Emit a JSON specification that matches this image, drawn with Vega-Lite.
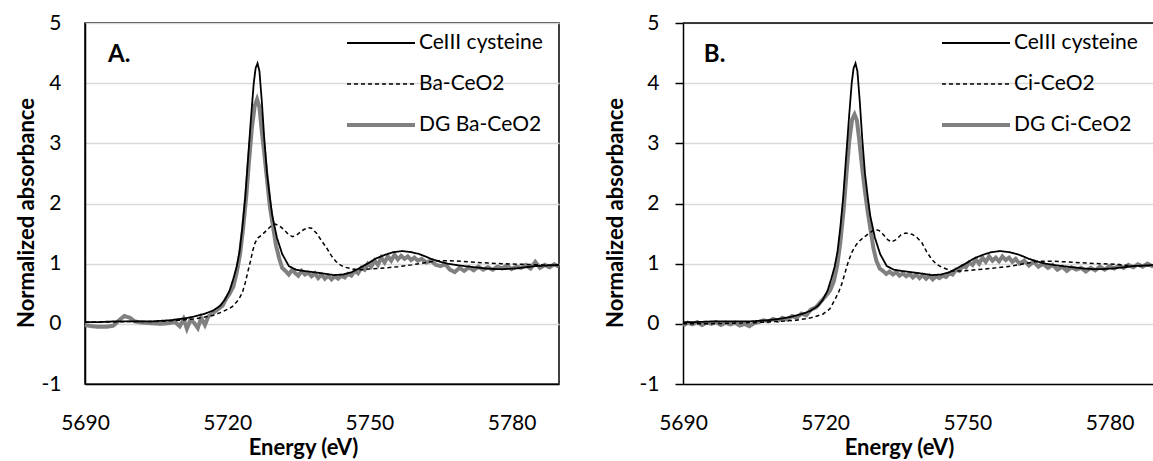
{
  "$schema": "https://vega.github.io/schema/vega-lite/v6.json",
  "padding": {"left": 14, "top": 11, "right": 0, "bottom": 0},
  "spacing": 36,
  "config": {
    "font": "Lato",
    "view": {"stroke": null},
    "axis": {"labelFont": "Lato", "labelFontSize": 21, "labelColor": "#000", "titleFont": "Lato", "titleFontSize": 22, "titleFontWeight": "bold", "titleColor": "#000", "domainColor": "#000", "domainWidth": 1.5, "gridColor": "#d9d9d9", "gridWidth": 1.5, "tickColor": "#000", "tickWidth": 1.5},
    "legend": {"orient": "none", "title": null, "symbolType": "M-4.25,0H4.25", "symbolSize": 256, "labelFont": "Lato", "labelFontSize": 21, "labelColor": "#000", "labelOffset": 27.5, "rowPadding": 19}
  },
  "datasets": {
    "cys": [
      {"E": 5690, "v": 0.03, "s": "CeIII cysteine"}, {"E": 5693, "v": 0.03, "s": "CeIII cysteine"}, {"E": 5696, "v": 0.04, "s": "CeIII cysteine"}, {"E": 5700, "v": 0.04, "s": "CeIII cysteine"}, {"E": 5704, "v": 0.04, "s": "CeIII cysteine"}, {"E": 5708, "v": 0.06, "s": "CeIII cysteine"}, {"E": 5711, "v": 0.09, "s": "CeIII cysteine"}, {"E": 5713, "v": 0.12, "s": "CeIII cysteine"}, {"E": 5715, "v": 0.16, "s": "CeIII cysteine"}, {"E": 5717, "v": 0.22, "s": "CeIII cysteine"}, {"E": 5718.5, "v": 0.3, "s": "CeIII cysteine"}, {"E": 5719.5, "v": 0.4, "s": "CeIII cysteine"}, {"E": 5720.5, "v": 0.55, "s": "CeIII cysteine"}, {"E": 5721.3, "v": 0.75, "s": "CeIII cysteine"}, {"E": 5722, "v": 0.95, "s": "CeIII cysteine"}, {"E": 5722.6, "v": 1.2, "s": "CeIII cysteine"}, {"E": 5723.2, "v": 1.6, "s": "CeIII cysteine"}, {"E": 5723.8, "v": 2.1, "s": "CeIII cysteine"}, {"E": 5724.4, "v": 2.75, "s": "CeIII cysteine"}, {"E": 5725, "v": 3.4, "s": "CeIII cysteine"}, {"E": 5725.6, "v": 4.0, "s": "CeIII cysteine"}, {"E": 5726, "v": 4.25, "s": "CeIII cysteine"}, {"E": 5726.4, "v": 4.33, "s": "CeIII cysteine"}, {"E": 5726.8, "v": 4.2, "s": "CeIII cysteine"}, {"E": 5727.3, "v": 3.7, "s": "CeIII cysteine"}, {"E": 5727.8, "v": 3.1, "s": "CeIII cysteine"}, {"E": 5728.4, "v": 2.5, "s": "CeIII cysteine"}, {"E": 5729, "v": 2.1, "s": "CeIII cysteine"}, {"E": 5729.5, "v": 1.8, "s": "CeIII cysteine"}, {"E": 5730.5, "v": 1.43, "s": "CeIII cysteine"}, {"E": 5731.6, "v": 1.16, "s": "CeIII cysteine"}, {"E": 5733, "v": 0.96, "s": "CeIII cysteine"}, {"E": 5734.5, "v": 0.9, "s": "CeIII cysteine"}, {"E": 5736, "v": 0.88, "s": "CeIII cysteine"}, {"E": 5738, "v": 0.86, "s": "CeIII cysteine"}, {"E": 5740, "v": 0.84, "s": "CeIII cysteine"}, {"E": 5742.5, "v": 0.81, "s": "CeIII cysteine"}, {"E": 5744.5, "v": 0.82, "s": "CeIII cysteine"}, {"E": 5746.3, "v": 0.86, "s": "CeIII cysteine"}, {"E": 5748, "v": 0.93, "s": "CeIII cysteine"}, {"E": 5749.8, "v": 1.01, "s": "CeIII cysteine"}, {"E": 5751.5, "v": 1.09, "s": "CeIII cysteine"}, {"E": 5753.4, "v": 1.15, "s": "CeIII cysteine"}, {"E": 5755, "v": 1.19, "s": "CeIII cysteine"}, {"E": 5756.9, "v": 1.21, "s": "CeIII cysteine"}, {"E": 5759, "v": 1.19, "s": "CeIII cysteine"}, {"E": 5760.5, "v": 1.16, "s": "CeIII cysteine"}, {"E": 5761.8, "v": 1.12, "s": "CeIII cysteine"}, {"E": 5763, "v": 1.08, "s": "CeIII cysteine"}, {"E": 5764.6, "v": 1.04, "s": "CeIII cysteine"}, {"E": 5766.5, "v": 1.0, "s": "CeIII cysteine"}, {"E": 5768.1, "v": 0.98, "s": "CeIII cysteine"}, {"E": 5770, "v": 0.96, "s": "CeIII cysteine"}, {"E": 5772.3, "v": 0.94, "s": "CeIII cysteine"}, {"E": 5774.5, "v": 0.92, "s": "CeIII cysteine"}, {"E": 5776.6, "v": 0.91, "s": "CeIII cysteine"}, {"E": 5778.5, "v": 0.91, "s": "CeIII cysteine"}, {"E": 5780.8, "v": 0.92, "s": "CeIII cysteine"}, {"E": 5783, "v": 0.94, "s": "CeIII cysteine"}, {"E": 5785, "v": 0.96, "s": "CeIII cysteine"}, {"E": 5787.5, "v": 0.97, "s": "CeIII cysteine"}, {"E": 5790, "v": 0.98, "s": "CeIII cysteine"}
    ],
    "ba": [
      {"E": 5690, "v": 0.03, "s": "Ba-CeO2"}, {"E": 5695, "v": 0.03, "s": "Ba-CeO2"}, {"E": 5700, "v": 0.04, "s": "Ba-CeO2"}, {"E": 5705, "v": 0.04, "s": "Ba-CeO2"}, {"E": 5710, "v": 0.06, "s": "Ba-CeO2"}, {"E": 5713, "v": 0.08, "s": "Ba-CeO2"}, {"E": 5717, "v": 0.14, "s": "Ba-CeO2"}, {"E": 5719, "v": 0.2, "s": "Ba-CeO2"}, {"E": 5721, "v": 0.28, "s": "Ba-CeO2"}, {"E": 5722.4, "v": 0.4, "s": "Ba-CeO2"}, {"E": 5723.2, "v": 0.52, "s": "Ba-CeO2"}, {"E": 5723.8, "v": 0.68, "s": "Ba-CeO2"}, {"E": 5724.4, "v": 0.88, "s": "Ba-CeO2"}, {"E": 5724.9, "v": 1.04, "s": "Ba-CeO2"}, {"E": 5725.4, "v": 1.22, "s": "Ba-CeO2"}, {"E": 5725.9, "v": 1.35, "s": "Ba-CeO2"}, {"E": 5726.5, "v": 1.43, "s": "Ba-CeO2"}, {"E": 5727.2, "v": 1.47, "s": "Ba-CeO2"}, {"E": 5728.4, "v": 1.56, "s": "Ba-CeO2"}, {"E": 5729.3, "v": 1.63, "s": "Ba-CeO2"}, {"E": 5730.1, "v": 1.66, "s": "Ba-CeO2"}, {"E": 5731, "v": 1.63, "s": "Ba-CeO2"}, {"E": 5731.9, "v": 1.57, "s": "Ba-CeO2"}, {"E": 5733, "v": 1.48, "s": "Ba-CeO2"}, {"E": 5733.8, "v": 1.45, "s": "Ba-CeO2"}, {"E": 5734.6, "v": 1.47, "s": "Ba-CeO2"}, {"E": 5735.8, "v": 1.55, "s": "Ba-CeO2"}, {"E": 5737, "v": 1.6, "s": "Ba-CeO2"}, {"E": 5737.8, "v": 1.59, "s": "Ba-CeO2"}, {"E": 5738.9, "v": 1.5, "s": "Ba-CeO2"}, {"E": 5740, "v": 1.37, "s": "Ba-CeO2"}, {"E": 5741, "v": 1.26, "s": "Ba-CeO2"}, {"E": 5742, "v": 1.13, "s": "Ba-CeO2"}, {"E": 5742.9, "v": 1.04, "s": "Ba-CeO2"}, {"E": 5744, "v": 0.97, "s": "Ba-CeO2"}, {"E": 5744.9, "v": 0.94, "s": "Ba-CeO2"}, {"E": 5746.5, "v": 0.91, "s": "Ba-CeO2"}, {"E": 5748, "v": 0.9, "s": "Ba-CeO2"}, {"E": 5750, "v": 0.91, "s": "Ba-CeO2"}, {"E": 5753.4, "v": 0.93, "s": "Ba-CeO2"}, {"E": 5756, "v": 0.95, "s": "Ba-CeO2"}, {"E": 5759, "v": 0.98, "s": "Ba-CeO2"}, {"E": 5762, "v": 1.02, "s": "Ba-CeO2"}, {"E": 5764.6, "v": 1.05, "s": "Ba-CeO2"}, {"E": 5767, "v": 1.05, "s": "Ba-CeO2"}, {"E": 5771, "v": 1.03, "s": "Ba-CeO2"}, {"E": 5775, "v": 1.01, "s": "Ba-CeO2"}, {"E": 5778, "v": 1.0, "s": "Ba-CeO2"}, {"E": 5782, "v": 0.99, "s": "Ba-CeO2"}, {"E": 5786, "v": 0.98, "s": "Ba-CeO2"}, {"E": 5790, "v": 0.97, "s": "Ba-CeO2"}
    ],
    "dgba": [
      {"E": 5690, "v": -0.02, "s": "DG Ba-CeO2"}, {"E": 5691.5, "v": -0.04, "s": "DG Ba-CeO2"}, {"E": 5693, "v": -0.05, "s": "DG Ba-CeO2"}, {"E": 5694.5, "v": -0.05, "s": "DG Ba-CeO2"}, {"E": 5696, "v": -0.03, "s": "DG Ba-CeO2"}, {"E": 5697.2, "v": 0.06, "s": "DG Ba-CeO2"}, {"E": 5698.3, "v": 0.13, "s": "DG Ba-CeO2"}, {"E": 5699.5, "v": 0.1, "s": "DG Ba-CeO2"}, {"E": 5700.5, "v": 0.04, "s": "DG Ba-CeO2"}, {"E": 5702, "v": 0.02, "s": "DG Ba-CeO2"}, {"E": 5704, "v": 0.01, "s": "DG Ba-CeO2"}, {"E": 5706, "v": 0.0, "s": "DG Ba-CeO2"}, {"E": 5707.5, "v": 0.01, "s": "DG Ba-CeO2"}, {"E": 5709, "v": 0.03, "s": "DG Ba-CeO2"}, {"E": 5710, "v": -0.04, "s": "DG Ba-CeO2"}, {"E": 5710.8, "v": 0.08, "s": "DG Ba-CeO2"}, {"E": 5711.5, "v": -0.08, "s": "DG Ba-CeO2"}, {"E": 5712.2, "v": 0.06, "s": "DG Ba-CeO2"}, {"E": 5713, "v": 0.02, "s": "DG Ba-CeO2"}, {"E": 5713.8, "v": -0.07, "s": "DG Ba-CeO2"}, {"E": 5714.5, "v": 0.1, "s": "DG Ba-CeO2"}, {"E": 5715.3, "v": -0.02, "s": "DG Ba-CeO2"}, {"E": 5716, "v": 0.12, "s": "DG Ba-CeO2"}, {"E": 5717, "v": 0.18, "s": "DG Ba-CeO2"}, {"E": 5718, "v": 0.24, "s": "DG Ba-CeO2"}, {"E": 5719, "v": 0.3, "s": "DG Ba-CeO2"}, {"E": 5719.8, "v": 0.42, "s": "DG Ba-CeO2"}, {"E": 5720.5, "v": 0.5, "s": "DG Ba-CeO2"}, {"E": 5721.3, "v": 0.62, "s": "DG Ba-CeO2"}, {"E": 5722, "v": 0.85, "s": "DG Ba-CeO2"}, {"E": 5722.7, "v": 1.15, "s": "DG Ba-CeO2"}, {"E": 5723.3, "v": 1.55, "s": "DG Ba-CeO2"}, {"E": 5724, "v": 2.1, "s": "DG Ba-CeO2"}, {"E": 5724.6, "v": 2.7, "s": "DG Ba-CeO2"}, {"E": 5725.2, "v": 3.25, "s": "DG Ba-CeO2"}, {"E": 5725.8, "v": 3.62, "s": "DG Ba-CeO2"}, {"E": 5726.3, "v": 3.73, "s": "DG Ba-CeO2"}, {"E": 5726.8, "v": 3.6, "s": "DG Ba-CeO2"}, {"E": 5727.3, "v": 3.2, "s": "DG Ba-CeO2"}, {"E": 5727.8, "v": 2.85, "s": "DG Ba-CeO2"}, {"E": 5728.4, "v": 2.4, "s": "DG Ba-CeO2"}, {"E": 5729, "v": 1.95, "s": "DG Ba-CeO2"}, {"E": 5729.6, "v": 1.65, "s": "DG Ba-CeO2"}, {"E": 5730.3, "v": 1.3, "s": "DG Ba-CeO2"}, {"E": 5731, "v": 1.08, "s": "DG Ba-CeO2"}, {"E": 5731.6, "v": 0.93, "s": "DG Ba-CeO2"}, {"E": 5732.3, "v": 0.88, "s": "DG Ba-CeO2"}, {"E": 5733, "v": 0.82, "s": "DG Ba-CeO2"}, {"E": 5733.7, "v": 0.9, "s": "DG Ba-CeO2"}, {"E": 5734.4, "v": 0.84, "s": "DG Ba-CeO2"}, {"E": 5735, "v": 0.8, "s": "DG Ba-CeO2"}, {"E": 5735.7, "v": 0.88, "s": "DG Ba-CeO2"}, {"E": 5736.4, "v": 0.82, "s": "DG Ba-CeO2"}, {"E": 5737.1, "v": 0.85, "s": "DG Ba-CeO2"}, {"E": 5737.8, "v": 0.79, "s": "DG Ba-CeO2"}, {"E": 5738.5, "v": 0.84, "s": "DG Ba-CeO2"}, {"E": 5739.2, "v": 0.76, "s": "DG Ba-CeO2"}, {"E": 5739.9, "v": 0.82, "s": "DG Ba-CeO2"}, {"E": 5740.6, "v": 0.75, "s": "DG Ba-CeO2"}, {"E": 5741.3, "v": 0.8, "s": "DG Ba-CeO2"}, {"E": 5742, "v": 0.74, "s": "DG Ba-CeO2"}, {"E": 5742.7, "v": 0.79, "s": "DG Ba-CeO2"}, {"E": 5743.4, "v": 0.75, "s": "DG Ba-CeO2"}, {"E": 5744.1, "v": 0.8, "s": "DG Ba-CeO2"}, {"E": 5744.8, "v": 0.77, "s": "DG Ba-CeO2"}, {"E": 5745.5, "v": 0.83, "s": "DG Ba-CeO2"}, {"E": 5746.2, "v": 0.8, "s": "DG Ba-CeO2"}, {"E": 5746.9, "v": 0.88, "s": "DG Ba-CeO2"}, {"E": 5747.6, "v": 0.84, "s": "DG Ba-CeO2"}, {"E": 5748.3, "v": 0.93, "s": "DG Ba-CeO2"}, {"E": 5749, "v": 0.9, "s": "DG Ba-CeO2"}, {"E": 5749.7, "v": 1.0, "s": "DG Ba-CeO2"}, {"E": 5750.4, "v": 0.95, "s": "DG Ba-CeO2"}, {"E": 5751.1, "v": 1.05, "s": "DG Ba-CeO2"}, {"E": 5751.8, "v": 0.98, "s": "DG Ba-CeO2"}, {"E": 5752.5, "v": 1.1, "s": "DG Ba-CeO2"}, {"E": 5753.2, "v": 1.02, "s": "DG Ba-CeO2"}, {"E": 5753.9, "v": 1.12, "s": "DG Ba-CeO2"}, {"E": 5754.6, "v": 1.05, "s": "DG Ba-CeO2"}, {"E": 5755.3, "v": 1.15, "s": "DG Ba-CeO2"}, {"E": 5756, "v": 1.07, "s": "DG Ba-CeO2"}, {"E": 5756.7, "v": 1.13, "s": "DG Ba-CeO2"}, {"E": 5757.4, "v": 1.08, "s": "DG Ba-CeO2"}, {"E": 5758.1, "v": 1.12, "s": "DG Ba-CeO2"}, {"E": 5758.8, "v": 1.06, "s": "DG Ba-CeO2"}, {"E": 5759.5, "v": 1.1, "s": "DG Ba-CeO2"}, {"E": 5760.2, "v": 1.05, "s": "DG Ba-CeO2"}, {"E": 5761, "v": 1.08, "s": "DG Ba-CeO2"}, {"E": 5762, "v": 1.02, "s": "DG Ba-CeO2"}, {"E": 5763, "v": 1.05, "s": "DG Ba-CeO2"}, {"E": 5764, "v": 0.98, "s": "DG Ba-CeO2"}, {"E": 5765, "v": 0.96, "s": "DG Ba-CeO2"}, {"E": 5766, "v": 0.99, "s": "DG Ba-CeO2"}, {"E": 5767, "v": 0.9, "s": "DG Ba-CeO2"}, {"E": 5768, "v": 0.86, "s": "DG Ba-CeO2"}, {"E": 5769, "v": 0.93, "s": "DG Ba-CeO2"}, {"E": 5770, "v": 0.88, "s": "DG Ba-CeO2"}, {"E": 5771, "v": 0.94, "s": "DG Ba-CeO2"}, {"E": 5772, "v": 0.89, "s": "DG Ba-CeO2"}, {"E": 5773, "v": 0.95, "s": "DG Ba-CeO2"}, {"E": 5774, "v": 0.9, "s": "DG Ba-CeO2"}, {"E": 5775, "v": 0.94, "s": "DG Ba-CeO2"}, {"E": 5776, "v": 0.9, "s": "DG Ba-CeO2"}, {"E": 5777, "v": 0.95, "s": "DG Ba-CeO2"}, {"E": 5778, "v": 0.92, "s": "DG Ba-CeO2"}, {"E": 5779, "v": 0.97, "s": "DG Ba-CeO2"}, {"E": 5780, "v": 0.91, "s": "DG Ba-CeO2"}, {"E": 5781, "v": 0.95, "s": "DG Ba-CeO2"}, {"E": 5782, "v": 0.93, "s": "DG Ba-CeO2"}, {"E": 5783, "v": 0.98, "s": "DG Ba-CeO2"}, {"E": 5784, "v": 0.92, "s": "DG Ba-CeO2"}, {"E": 5785, "v": 1.03, "s": "DG Ba-CeO2"}, {"E": 5786, "v": 0.93, "s": "DG Ba-CeO2"}, {"E": 5787, "v": 0.98, "s": "DG Ba-CeO2"}, {"E": 5788, "v": 0.94, "s": "DG Ba-CeO2"}, {"E": 5789, "v": 0.99, "s": "DG Ba-CeO2"}, {"E": 5790, "v": 0.95, "s": "DG Ba-CeO2"}
    ],
    "ci": [
      {"E": 5690, "v": 0.0, "s": "Ci-CeO2"}, {"E": 5695, "v": 0.0, "s": "Ci-CeO2"}, {"E": 5700, "v": 0.01, "s": "Ci-CeO2"}, {"E": 5705, "v": 0.02, "s": "Ci-CeO2"}, {"E": 5710, "v": 0.04, "s": "Ci-CeO2"}, {"E": 5714, "v": 0.06, "s": "Ci-CeO2"}, {"E": 5717, "v": 0.1, "s": "Ci-CeO2"}, {"E": 5719.5, "v": 0.16, "s": "Ci-CeO2"}, {"E": 5721, "v": 0.25, "s": "Ci-CeO2"}, {"E": 5722.1, "v": 0.41, "s": "Ci-CeO2"}, {"E": 5722.8, "v": 0.52, "s": "Ci-CeO2"}, {"E": 5723.5, "v": 0.66, "s": "Ci-CeO2"}, {"E": 5724.2, "v": 0.85, "s": "Ci-CeO2"}, {"E": 5724.9, "v": 1.04, "s": "Ci-CeO2"}, {"E": 5725.7, "v": 1.2, "s": "Ci-CeO2"}, {"E": 5726.6, "v": 1.32, "s": "Ci-CeO2"}, {"E": 5727.3, "v": 1.38, "s": "Ci-CeO2"}, {"E": 5728, "v": 1.43, "s": "Ci-CeO2"}, {"E": 5729.2, "v": 1.5, "s": "Ci-CeO2"}, {"E": 5730.5, "v": 1.57, "s": "Ci-CeO2"}, {"E": 5731.4, "v": 1.55, "s": "Ci-CeO2"}, {"E": 5732.3, "v": 1.48, "s": "Ci-CeO2"}, {"E": 5733.2, "v": 1.4, "s": "Ci-CeO2"}, {"E": 5734, "v": 1.36, "s": "Ci-CeO2"}, {"E": 5735, "v": 1.4, "s": "Ci-CeO2"}, {"E": 5736, "v": 1.48, "s": "Ci-CeO2"}, {"E": 5737, "v": 1.51, "s": "Ci-CeO2"}, {"E": 5738.3, "v": 1.49, "s": "Ci-CeO2"}, {"E": 5739.3, "v": 1.44, "s": "Ci-CeO2"}, {"E": 5740.4, "v": 1.35, "s": "Ci-CeO2"}, {"E": 5741.4, "v": 1.2, "s": "Ci-CeO2"}, {"E": 5742.5, "v": 1.07, "s": "Ci-CeO2"}, {"E": 5743.5, "v": 0.99, "s": "Ci-CeO2"}, {"E": 5744.6, "v": 0.94, "s": "Ci-CeO2"}, {"E": 5746.7, "v": 0.88, "s": "Ci-CeO2"}, {"E": 5749, "v": 0.88, "s": "Ci-CeO2"}, {"E": 5753.6, "v": 0.91, "s": "Ci-CeO2"}, {"E": 5756, "v": 0.93, "s": "Ci-CeO2"}, {"E": 5759.2, "v": 0.96, "s": "Ci-CeO2"}, {"E": 5762, "v": 1.0, "s": "Ci-CeO2"}, {"E": 5764.8, "v": 1.04, "s": "Ci-CeO2"}, {"E": 5768, "v": 1.04, "s": "Ci-CeO2"}, {"E": 5771.1, "v": 1.03, "s": "Ci-CeO2"}, {"E": 5775, "v": 1.01, "s": "Ci-CeO2"}, {"E": 5778.1, "v": 1.0, "s": "Ci-CeO2"}, {"E": 5781, "v": 0.99, "s": "Ci-CeO2"}, {"E": 5785.1, "v": 0.96, "s": "Ci-CeO2"}, {"E": 5790, "v": 0.97, "s": "Ci-CeO2"}
    ],
    "dgci": [
      {"E": 5690, "v": -0.03, "s": "DG Ci-CeO2"}, {"E": 5691, "v": 0.02, "s": "DG Ci-CeO2"}, {"E": 5692, "v": -0.01, "s": "DG Ci-CeO2"}, {"E": 5693, "v": 0.03, "s": "DG Ci-CeO2"}, {"E": 5694, "v": -0.02, "s": "DG Ci-CeO2"}, {"E": 5695, "v": 0.02, "s": "DG Ci-CeO2"}, {"E": 5696, "v": 0.0, "s": "DG Ci-CeO2"}, {"E": 5697, "v": 0.03, "s": "DG Ci-CeO2"}, {"E": 5698, "v": -0.02, "s": "DG Ci-CeO2"}, {"E": 5699, "v": 0.02, "s": "DG Ci-CeO2"}, {"E": 5700, "v": -0.01, "s": "DG Ci-CeO2"}, {"E": 5701, "v": 0.02, "s": "DG Ci-CeO2"}, {"E": 5702, "v": -0.03, "s": "DG Ci-CeO2"}, {"E": 5703, "v": 0.0, "s": "DG Ci-CeO2"}, {"E": 5704, "v": -0.04, "s": "DG Ci-CeO2"}, {"E": 5705, "v": 0.01, "s": "DG Ci-CeO2"}, {"E": 5706, "v": 0.03, "s": "DG Ci-CeO2"}, {"E": 5707, "v": 0.06, "s": "DG Ci-CeO2"}, {"E": 5708, "v": 0.04, "s": "DG Ci-CeO2"}, {"E": 5709, "v": 0.08, "s": "DG Ci-CeO2"}, {"E": 5710, "v": 0.05, "s": "DG Ci-CeO2"}, {"E": 5711, "v": 0.1, "s": "DG Ci-CeO2"}, {"E": 5712, "v": 0.07, "s": "DG Ci-CeO2"}, {"E": 5713, "v": 0.13, "s": "DG Ci-CeO2"}, {"E": 5714, "v": 0.1, "s": "DG Ci-CeO2"}, {"E": 5715, "v": 0.17, "s": "DG Ci-CeO2"}, {"E": 5716, "v": 0.14, "s": "DG Ci-CeO2"}, {"E": 5717, "v": 0.24, "s": "DG Ci-CeO2"}, {"E": 5718, "v": 0.27, "s": "DG Ci-CeO2"}, {"E": 5719, "v": 0.36, "s": "DG Ci-CeO2"}, {"E": 5720, "v": 0.45, "s": "DG Ci-CeO2"}, {"E": 5721, "v": 0.55, "s": "DG Ci-CeO2"}, {"E": 5721.8, "v": 0.7, "s": "DG Ci-CeO2"}, {"E": 5722.5, "v": 0.95, "s": "DG Ci-CeO2"}, {"E": 5723.2, "v": 1.35, "s": "DG Ci-CeO2"}, {"E": 5723.9, "v": 1.9, "s": "DG Ci-CeO2"}, {"E": 5724.5, "v": 2.5, "s": "DG Ci-CeO2"}, {"E": 5725.1, "v": 3.05, "s": "DG Ci-CeO2"}, {"E": 5725.7, "v": 3.4, "s": "DG Ci-CeO2"}, {"E": 5726.2, "v": 3.48, "s": "DG Ci-CeO2"}, {"E": 5726.7, "v": 3.38, "s": "DG Ci-CeO2"}, {"E": 5727.2, "v": 3.05, "s": "DG Ci-CeO2"}, {"E": 5727.8, "v": 2.6, "s": "DG Ci-CeO2"}, {"E": 5728.4, "v": 2.2, "s": "DG Ci-CeO2"}, {"E": 5729, "v": 1.85, "s": "DG Ci-CeO2"}, {"E": 5729.6, "v": 1.55, "s": "DG Ci-CeO2"}, {"E": 5730.2, "v": 1.25, "s": "DG Ci-CeO2"}, {"E": 5730.8, "v": 1.05, "s": "DG Ci-CeO2"}, {"E": 5731.5, "v": 0.92, "s": "DG Ci-CeO2"}, {"E": 5732.2, "v": 0.88, "s": "DG Ci-CeO2"}, {"E": 5732.9, "v": 0.83, "s": "DG Ci-CeO2"}, {"E": 5733.6, "v": 0.87, "s": "DG Ci-CeO2"}, {"E": 5734.3, "v": 0.82, "s": "DG Ci-CeO2"}, {"E": 5735, "v": 0.86, "s": "DG Ci-CeO2"}, {"E": 5735.7, "v": 0.8, "s": "DG Ci-CeO2"}, {"E": 5736.4, "v": 0.84, "s": "DG Ci-CeO2"}, {"E": 5737.1, "v": 0.79, "s": "DG Ci-CeO2"}, {"E": 5737.8, "v": 0.83, "s": "DG Ci-CeO2"}, {"E": 5738.5, "v": 0.77, "s": "DG Ci-CeO2"}, {"E": 5739.2, "v": 0.82, "s": "DG Ci-CeO2"}, {"E": 5739.9, "v": 0.76, "s": "DG Ci-CeO2"}, {"E": 5740.6, "v": 0.81, "s": "DG Ci-CeO2"}, {"E": 5741.3, "v": 0.75, "s": "DG Ci-CeO2"}, {"E": 5742, "v": 0.8, "s": "DG Ci-CeO2"}, {"E": 5742.7, "v": 0.74, "s": "DG Ci-CeO2"}, {"E": 5743.4, "v": 0.79, "s": "DG Ci-CeO2"}, {"E": 5744.1, "v": 0.76, "s": "DG Ci-CeO2"}, {"E": 5744.8, "v": 0.8, "s": "DG Ci-CeO2"}, {"E": 5745.5, "v": 0.78, "s": "DG Ci-CeO2"}, {"E": 5746.2, "v": 0.84, "s": "DG Ci-CeO2"}, {"E": 5746.9, "v": 0.82, "s": "DG Ci-CeO2"}, {"E": 5747.6, "v": 0.9, "s": "DG Ci-CeO2"}, {"E": 5748.3, "v": 0.88, "s": "DG Ci-CeO2"}, {"E": 5749, "v": 0.96, "s": "DG Ci-CeO2"}, {"E": 5749.7, "v": 0.94, "s": "DG Ci-CeO2"}, {"E": 5750.4, "v": 1.02, "s": "DG Ci-CeO2"}, {"E": 5751.1, "v": 0.98, "s": "DG Ci-CeO2"}, {"E": 5751.8, "v": 1.07, "s": "DG Ci-CeO2"}, {"E": 5752.5, "v": 1.0, "s": "DG Ci-CeO2"}, {"E": 5753.2, "v": 1.1, "s": "DG Ci-CeO2"}, {"E": 5753.9, "v": 1.03, "s": "DG Ci-CeO2"}, {"E": 5754.6, "v": 1.12, "s": "DG Ci-CeO2"}, {"E": 5755.3, "v": 1.05, "s": "DG Ci-CeO2"}, {"E": 5756, "v": 1.1, "s": "DG Ci-CeO2"}, {"E": 5756.7, "v": 1.04, "s": "DG Ci-CeO2"}, {"E": 5757.4, "v": 1.12, "s": "DG Ci-CeO2"}, {"E": 5758.1, "v": 1.06, "s": "DG Ci-CeO2"}, {"E": 5758.8, "v": 1.1, "s": "DG Ci-CeO2"}, {"E": 5759.5, "v": 1.03, "s": "DG Ci-CeO2"}, {"E": 5760.2, "v": 1.08, "s": "DG Ci-CeO2"}, {"E": 5761, "v": 1.0, "s": "DG Ci-CeO2"}, {"E": 5762, "v": 1.05, "s": "DG Ci-CeO2"}, {"E": 5763, "v": 0.97, "s": "DG Ci-CeO2"}, {"E": 5764, "v": 1.03, "s": "DG Ci-CeO2"}, {"E": 5765, "v": 0.95, "s": "DG Ci-CeO2"}, {"E": 5766, "v": 1.0, "s": "DG Ci-CeO2"}, {"E": 5767, "v": 0.93, "s": "DG Ci-CeO2"}, {"E": 5768, "v": 0.98, "s": "DG Ci-CeO2"}, {"E": 5769, "v": 0.9, "s": "DG Ci-CeO2"}, {"E": 5770, "v": 0.95, "s": "DG Ci-CeO2"}, {"E": 5771, "v": 0.88, "s": "DG Ci-CeO2"}, {"E": 5772, "v": 0.94, "s": "DG Ci-CeO2"}, {"E": 5773, "v": 0.9, "s": "DG Ci-CeO2"}, {"E": 5774, "v": 0.93, "s": "DG Ci-CeO2"}, {"E": 5775, "v": 0.87, "s": "DG Ci-CeO2"}, {"E": 5776, "v": 0.93, "s": "DG Ci-CeO2"}, {"E": 5777, "v": 0.89, "s": "DG Ci-CeO2"}, {"E": 5778, "v": 0.95, "s": "DG Ci-CeO2"}, {"E": 5779, "v": 0.9, "s": "DG Ci-CeO2"}, {"E": 5780, "v": 0.96, "s": "DG Ci-CeO2"}, {"E": 5781, "v": 0.92, "s": "DG Ci-CeO2"}, {"E": 5782, "v": 0.97, "s": "DG Ci-CeO2"}, {"E": 5783, "v": 0.93, "s": "DG Ci-CeO2"}, {"E": 5784, "v": 0.98, "s": "DG Ci-CeO2"}, {"E": 5785, "v": 0.94, "s": "DG Ci-CeO2"}, {"E": 5786, "v": 0.99, "s": "DG Ci-CeO2"}, {"E": 5787, "v": 0.95, "s": "DG Ci-CeO2"}, {"E": 5788, "v": 1.0, "s": "DG Ci-CeO2"}, {"E": 5789, "v": 0.96, "s": "DG Ci-CeO2"}, {"E": 5790, "v": 0.98, "s": "DG Ci-CeO2"}
    ]
  },
  "hconcat": [
    {
      "width": 474,
      "height": 361,
      "view": {"stroke": "#000", "strokeWidth": 1.5},
      "layer": [
        {
          "encoding": {
            "x": {"field": "E", "type": "quantitative", "title": "Energy (eV)", "scale": {"domain": [5690, 5790], "nice": false, "zero": false}, "axis": {"values": [5690, 5720, 5750, 5780], "format": "d", "grid": false, "ticks": false, "tickSize": 0, "labelPadding": 28, "labelFlush": false, "titleX": 218, "titleY": 70, "titleBaseline": "alphabetic"}},
            "y": {"field": "v", "type": "quantitative", "title": "Normalized absorbance", "scale": {"domain": [-1, 5], "nice": false, "zero": false}, "axis": {"values": [-1, 0, 1, 2, 3, 4, 5], "labelExpr": "datum.value + ''", "grid": true, "ticks": false, "tickSize": 0, "labelPadding": 24, "titleX": -52, "titleY": 189.5, "titleBaseline": "alphabetic"}},
            "color": {"field": "s", "type": "nominal", "scale": {"domain": ["CeIII cysteine", "Ba-CeO2", "DG Ba-CeO2"], "range": ["#000000", "#000000", "#808080"]}, "legend": {"legendX": 285.5, "legendY": 9.5}},
            "strokeDash": {"field": "s", "type": "nominal", "scale": {"domain": ["CeIII cysteine", "Ba-CeO2", "DG Ba-CeO2"], "range": [[1, 0], [4, 3], [1, 0]]}, "legend": {"legendX": 285.5, "legendY": 9.5}},
            "strokeWidth": {"field": "s", "type": "nominal", "scale": {"type": "ordinal", "domain": ["CeIII cysteine", "Ba-CeO2", "DG Ba-CeO2"], "range": [1.8, 1.5, 4]}, "legend": {"legendX": 285.5, "legendY": 9.5}}
          },
          "layer": [
            {"data": {"name": "dgba"}, "mark": {"type": "line"}},
            {"data": {"name": "ba"}, "mark": {"type": "line"}},
            {"data": {"name": "cys"}, "mark": {"type": "line"}}
          ]
        },
        {"data": {"values": [{}]}, "mark": {"type": "text", "text": "A.", "align": "left", "baseline": "alphabetic", "fontSize": 24, "fontWeight": "bold", "font": "Lato", "fill": "#000"}, "encoding": {"x": {"datum": 5694.85, "type": "quantitative", "title": "Energy (eV)"}, "y": {"datum": 4.345, "type": "quantitative", "title": "Normalized absorbance"}}}
      ]
    },
    {
      "width": 472,
      "height": 361,
      "layer": [
        {"data": {"values": [{}]}, "mark": {"type": "rule", "color": "#000", "strokeWidth": 1.5}, "encoding": {"y": {"datum": 5, "type": "quantitative", "title": "Normalized absorbance"}}},
        {
          "encoding": {
            "x": {"field": "E", "type": "quantitative", "title": "Energy (eV)", "scale": {"domain": [5690, 5789.6], "nice": false, "zero": false}, "axis": {"values": [5690, 5720, 5750, 5780], "format": "d", "grid": false, "ticks": false, "tickSize": 0, "labelPadding": 28, "labelFlush": false, "titleX": 216, "titleY": 70, "titleBaseline": "alphabetic"}},
            "y": {"field": "v", "type": "quantitative", "title": "Normalized absorbance", "scale": {"domain": [-1, 5], "nice": false, "zero": false}, "axis": {"values": [-1, 0, 1, 2, 3, 4, 5], "labelExpr": "datum.value + ''", "grid": true, "ticks": true, "tickSize": 8, "labelPadding": 16, "titleX": -61, "titleY": 189.5, "titleBaseline": "alphabetic"}},
            "color": {"field": "s", "type": "nominal", "scale": {"domain": ["CeIII cysteine", "Ci-CeO2", "DG Ci-CeO2"], "range": ["#000000", "#000000", "#808080"]}, "legend": {"legendX": 282.5, "legendY": 9.5}},
            "strokeDash": {"field": "s", "type": "nominal", "scale": {"domain": ["CeIII cysteine", "Ci-CeO2", "DG Ci-CeO2"], "range": [[1, 0], [4, 3], [1, 0]]}, "legend": {"legendX": 282.5, "legendY": 9.5}},
            "strokeWidth": {"field": "s", "type": "nominal", "scale": {"type": "ordinal", "domain": ["CeIII cysteine", "Ci-CeO2", "DG Ci-CeO2"], "range": [1.8, 1.5, 4]}, "legend": {"legendX": 282.5, "legendY": 9.5}}
          },
          "layer": [
            {"data": {"name": "dgci"}, "mark": {"type": "line"}},
            {"data": {"name": "ci"}, "mark": {"type": "line"}},
            {"data": {"name": "cys"}, "mark": {"type": "line"}}
          ]
        },
        {"data": {"values": [{}]}, "mark": {"type": "text", "text": "B.", "align": "left", "baseline": "alphabetic", "fontSize": 24, "fontWeight": "bold", "font": "Lato", "fill": "#000"}, "encoding": {"x": {"datum": 5694.4, "type": "quantitative", "title": "Energy (eV)"}, "y": {"datum": 4.345, "type": "quantitative", "title": "Normalized absorbance"}}}
      ]
    }
  ],
  "resolve": {"scale": {"color": "independent", "strokeDash": "independent", "strokeWidth": "independent"}, "legend": {"color": "independent", "strokeDash": "independent", "strokeWidth": "independent"}}
}
